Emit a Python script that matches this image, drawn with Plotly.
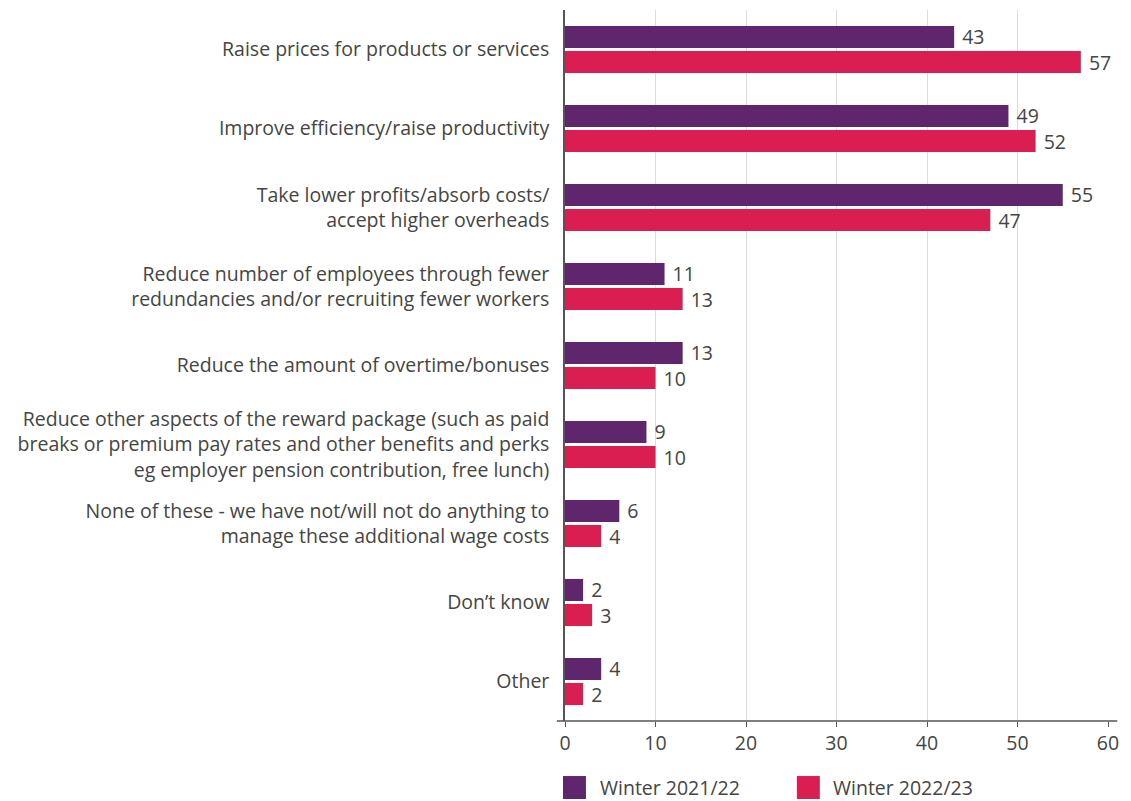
import plotly.graph_objects as go

categories = [
    "Raise prices for products or services",
    "Improve efficiency/raise productivity",
    "Take lower profits/absorb costs/<br>accept higher overheads",
    "Reduce number of employees through fewer<br>redundancies and/or recruiting fewer workers",
    "Reduce the amount of overtime/bonuses",
    "Reduce other aspects of the reward package (such as paid<br>breaks or premium pay rates and other benefits and perks<br>eg employer pension contribution, free lunch)",
    "None of these - we have not/will not do anything to<br>manage these additional wage costs",
    "Don\u2019t know",
    "Other",
]
winter_2021_22 = [43, 49, 55, 11, 13, 9, 6, 2, 4]
winter_2022_23 = [57, 52, 47, 13, 10, 10, 4, 3, 2]
series_names = ["Winter 2021/22", "Winter 2022/23"]
x_ticks = [0, 10, 20, 30, 40, 50, 60]

PURPLE = "#5F266E"
PINK = "#DB1E52"
TEXT = "#454545"
FONT = "Open Sans"
FS = 19.5

fig = go.Figure()
for name, vals, col in [(series_names[0], winter_2021_22, PURPLE),
                        (series_names[1], winter_2022_23, PINK)]:
    fig.add_trace(go.Bar(
        y=categories, x=vals, name=name, orientation="h",
        marker=dict(color=col, line=dict(width=0)),
        text=vals, texttemplate="\u00a0%{x}", textposition="outside",
        constraintext="none",
        textfont=dict(size=FS, color=TEXT, family=FONT),
        outsidetextfont=dict(size=FS, color=TEXT, family=FONT),
        cliponaxis=False, showlegend=False,
    ))

# Baseline extends a little past both ends of the value axis
fig.add_shape(type="line", xref="paper", yref="paper",
              x0=-0.015, x1=1.017, y0=0, y1=0,
              line=dict(color="#555555", width=1.5))

# Legend drawn as swatches and labels below the axis
legend_items = [(series_names[0], PURPLE, -0.0037, 0.0608),
                (series_names[1], PINK, 0.427, 0.490)]
for name, col, sx, tx in legend_items:
    fig.add_shape(type="rect", xref="paper", yref="paper",
                  x0=sx, x1=sx + 0.0423, y0=-0.0774, y1=-0.1097,
                  fillcolor=col, line=dict(width=0))
    fig.add_annotation(xref="paper", yref="paper", x=tx, y=-0.0935,
                       text=name, showarrow=False, xanchor="left",
                       yanchor="middle",
                       font=dict(size=FS, color=TEXT, family=FONT))

fig.update_layout(
    width=1131, height=801,
    margin=dict(l=565, r=23, t=10, b=80),
    paper_bgcolor="white", plot_bgcolor="white",
    barmode="group", bargap=0.365, bargroupgap=0.12,
    uniformtext=dict(mode=False),
    font=dict(family=FONT, color=TEXT, size=FS),
    xaxis=dict(range=[0, 60], tickvals=x_ticks, showgrid=True,
               gridcolor="#dcdcdc", gridwidth=1.2, zeroline=False,
               showline=False, ticks="outside", ticklen=5,
               tickcolor="#555555", tickwidth=1.2,
               tickfont=dict(size=FS, color=TEXT, family=FONT)),
    yaxis=dict(autorange="reversed", showline=True, linecolor="#555555",
               linewidth=1.5, ticks="", showgrid=False,
               ticklabelstandoff=10,
               tickfont=dict(size=FS, color=TEXT, family=FONT)),
)

fig.write_html("out.html")
